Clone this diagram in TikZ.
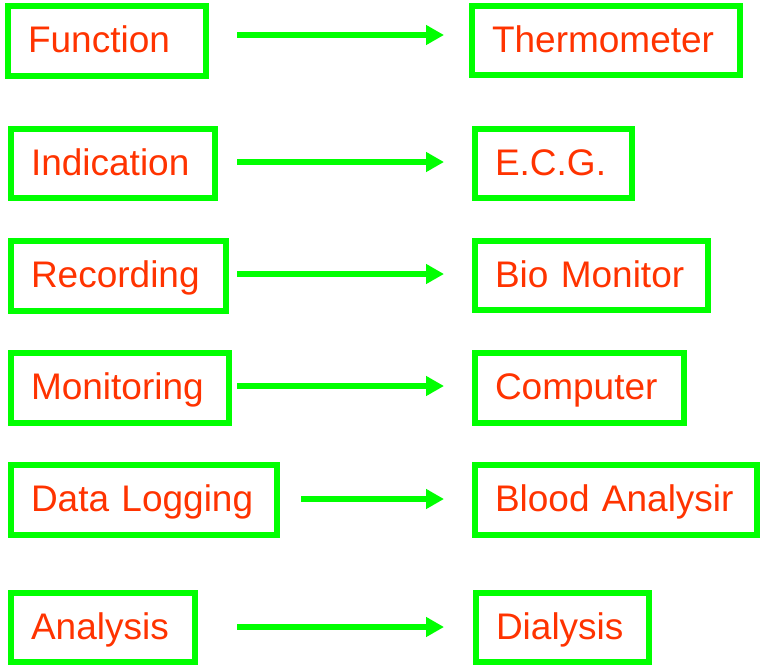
\documentclass[tikz,border=0pt]{standalone}
\usepackage{fontspec}
\setmainfont{Liberation Sans}
\usetikzlibrary{arrows.meta}
\definecolor{grn}{RGB}{0,255,0}
\definecolor{txtred}{RGB}{255,51,0}
\begin{document}
\begin{tikzpicture}[x=1pt,y=-1pt,
  bx/.style={draw=grn, line width=6pt, text=txtred, font=\fontsize{37}{44}\selectfont,
    inner xsep=20pt, inner ysep=0pt, align=left, text height=27pt, text depth=4pt},
  arr/.style={draw=grn, line width=5.5pt, -{Triangle[length=18pt,width=19pt]}}]
\useasboundingbox (0,0) rectangle (760,667);
% left column
\node[bx, text width=158pt, minimum width=198pt, minimum height=70pt] (l1) at (107,41) {Function};
\node[bx, text width=164pt, minimum width=204pt, minimum height=69pt] (l2) at (113,163.5) {Indication};
\node[bx, text width=175pt, minimum width=215pt, minimum height=70pt] (l3) at (118.5,276) {Recording};
\node[bx, text width=178pt, minimum width=218pt, minimum height=70pt] (l4) at (120,388) {Monitoring};
\node[bx, text width=226pt, minimum width=266pt, minimum height=70pt] (l5) at (144,500) {Data Logging};
\node[bx, text width=144pt, minimum width=184pt, minimum height=69pt] (l6) at (103,627.5) {Analysis};
% right column
\node[bx, text width=228pt, minimum width=268pt, minimum height=69pt] (r1) at (606,40.5) {Thermometer};
\node[bx, text width=117pt, minimum width=157pt, minimum height=69pt] (r2) at (553.5,163.5) {E.C.G.};
\node[bx, text width=193pt, minimum width=233pt, minimum height=69pt] (r3) at (591.5,275.5) {Bio Monitor};
\node[bx, text width=169pt, minimum width=209pt, minimum height=70pt] (r4) at (579.5,388) {Computer};
\node[bx, text width=242pt, minimum width=282pt, minimum height=70pt] (r5) at (616,500) {Blood Analysir};
\node[bx, text width=133pt, minimum width=173pt, minimum height=69pt] (r6) at (562.5,627.5) {Dialysis};
% arrow starts
\coordinate (s1) at (237,35);
\coordinate (s2) at (237,162);
\coordinate (s3) at (237,274);
\coordinate (s4) at (237,386);
\coordinate (s5) at (301,499);
\coordinate (s6) at (237,627);
\draw[arr, shorten >=25pt] (s1) -- (s1 -| r1.west);
\draw[arr, shorten >=28pt] (s2) -- (s2 -| r2.west);
\draw[arr, shorten >=28pt] (s3) -- (s3 -| r3.west);
\draw[arr, shorten >=28pt] (s4) -- (s4 -| r4.west);
\draw[arr, shorten >=28pt] (s5) -- (s5 -| r5.west);
\draw[arr, shorten >=29pt] (s6) -- (s6 -| r6.west);
\end{tikzpicture}
\end{document}
